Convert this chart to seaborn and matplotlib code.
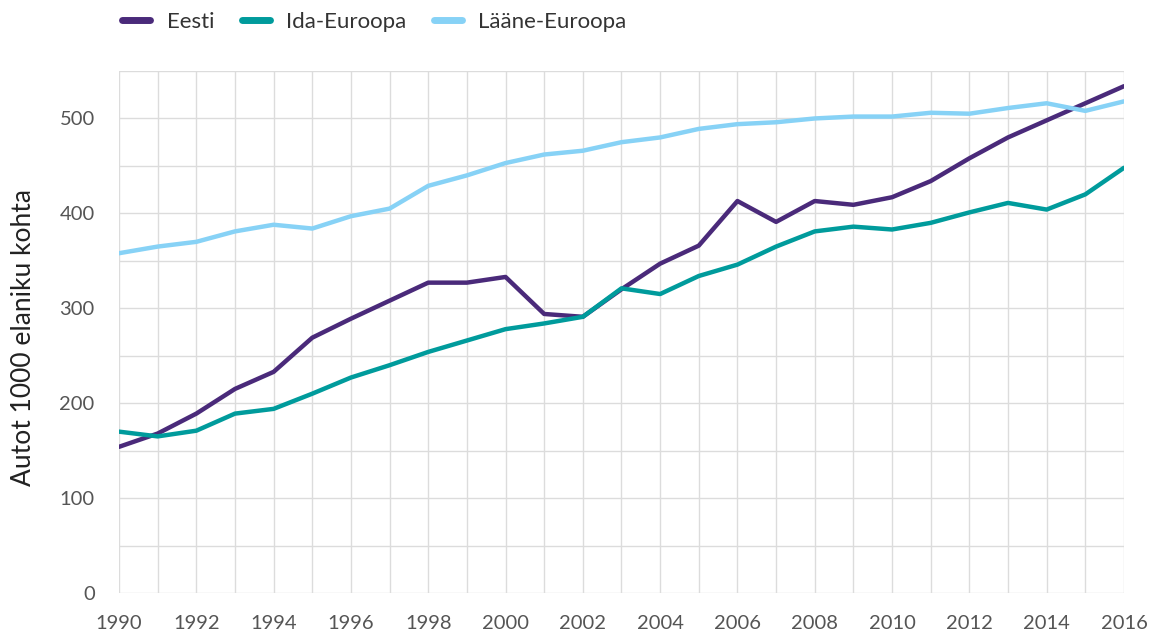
import numpy as np
import pandas as pd
import seaborn as sns
import matplotlib.pyplot as plt
from matplotlib.lines import Line2D

years = list(range(1990, 2017))
eesti = [154, 168, 189, 215, 233, 269, 289, 308, 327, 327, 333, 294, 291, 320, 347,
         366, 413, 391, 413, 409, 417, 434, 458, 480, 498, 516, 534]
ida = [170, 165, 171, 189, 194, 210, 227, 240, 254, 266, 278, 284, 291, 321, 315,
       334, 346, 365, 381, 386, 383, 390, 401, 411, 404, 420, 448]
laane = [358, 365, 370, 381, 388, 384, 397, 405, 429, 440, 453, 462, 466, 475, 480,
         489, 494, 496, 500, 502, 502, 506, 505, 511, 516, 508, 518]
series = ["Eesti", "Ida-Euroopa", "Lääne-Euroopa"]
colors = ["#4a2a7a", "#009b9c", "#87d2f6"]

df = pd.DataFrame({"aasta": years * 3,
                   "autod": eesti + ida + laane,
                   "piirkond": [s for s in series for _ in years]})

sns.set_style("white")
plt.rcParams["font.family"] = ["Lato", "DejaVu Sans"]

fig = plt.figure(figsize=(11.51, 6.34), dpi=100)
ax = fig.add_axes([0.1034, 0.0647, 0.8731, 0.8233])

sns.lineplot(data=df, x="aasta", y="autod", hue="piirkond", palette=colors,
             linewidth=3.2, ax=ax, legend=False)

ax.set_xlim(1990, 2016)
ax.set_ylim(0, 550)
ax.set_xticks(range(1990, 2017, 2))
ax.set_xticks(range(1990, 2017), minor=True)
ax.set_yticks(range(0, 551, 100))
ax.set_yticks(range(0, 551, 50), minor=True)
ax.grid(True, which="both", color="#dcdcdc", linewidth=1)
ax.set_axisbelow(True)
for s in ax.spines.values():
    s.set_visible(False)
ax.tick_params(axis="x", which="major", length=4, color="#dcdcdc", pad=12,
               labelsize=14.5, labelcolor="#555555")
ax.tick_params(axis="x", which="minor", length=0)
ax.tick_params(axis="y", which="both", length=4.5, color="#dcdcdc", pad=13,
               labelsize=14.5, labelcolor="#555555")
ax.set_xlabel("")
ax.set_ylabel("Autot 1000 elaniku kohta", fontsize=19, color="#222222")
ax.yaxis.set_label_coords(-0.0826, 0.49)

handles = [Line2D([0], [0], color=c, linewidth=5, solid_capstyle="round") for c in colors]
fig.legend(handles, series, loc="center left", bbox_to_anchor=(0.089, 1 - 22 / 634),
           ncol=3, frameon=False, fontsize=16, handlelength=1.26, handletextpad=0.74,
           columnspacing=1.23, labelcolor="#333333")

fig.savefig("out.png", dpi=100)
